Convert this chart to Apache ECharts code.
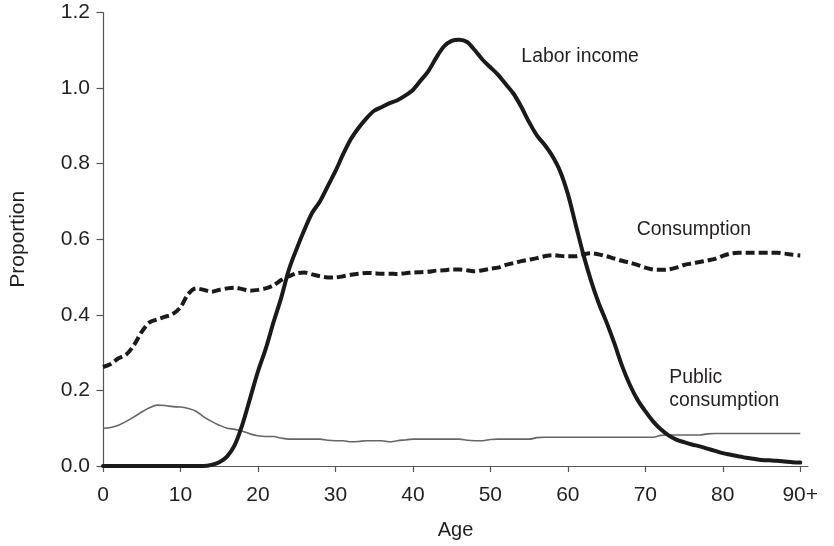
<!DOCTYPE html>
<html>
<head>
<meta charset="utf-8">
<script src="https://cdn.jsdelivr.net/npm/echarts@6/dist/echarts.min.js"></script>
<style>
html,body{margin:0;padding:0;background:#fff;}
#chart{width:834px;height:546px;}
</style>
</head>
<body>
<div id="chart"></div>
<script>
const ages = [0,1,2,3,4,5,6,7,8,9,10,11,12,13,14,15,16,17,18,19,20,21,22,23,24,25,26,27,28,29,30,31,32,33,34,35,36,37,38,39,40,41,42,43,44,45,46,47,48,49,50,51,52,53,54,55,56,57,58,59,60,61,62,63,64,65,66,67,68,69,70,71,72,73,74,75,76,77,78,79,80,81,82,83,84,85,86,87,88,89,90];

const laborIncome = [0,0,0,0,0,0,0,0,0,0,0,0,0,0,0.003,0.01,0.025,0.055,0.11,0.18,0.25,0.31,0.38,0.445,0.52,0.575,0.625,0.67,0.70,0.74,0.78,0.825,0.865,0.895,0.92,0.94,0.95,0.96,0.968,0.98,0.995,1.02,1.045,1.08,1.11,1.125,1.128,1.122,1.10,1.075,1.055,1.035,1.01,0.985,0.95,0.91,0.875,0.85,0.82,0.78,0.72,0.64,0.56,0.49,0.43,0.38,0.325,0.265,0.215,0.175,0.145,0.118,0.097,0.081,0.07,0.063,0.057,0.052,0.046,0.04,0.034,0.03,0.026,0.022,0.019,0.016,0.015,0.014,0.012,0.01,0.009];

const consumption = [0.262,0.27,0.285,0.295,0.32,0.355,0.38,0.388,0.395,0.402,0.42,0.455,0.47,0.466,0.461,0.466,0.47,0.472,0.468,0.464,0.466,0.47,0.478,0.492,0.502,0.51,0.512,0.507,0.502,0.499,0.499,0.502,0.506,0.509,0.511,0.51,0.509,0.509,0.508,0.51,0.512,0.513,0.514,0.517,0.518,0.52,0.52,0.518,0.515,0.518,0.522,0.525,0.532,0.537,0.542,0.546,0.55,0.555,0.558,0.556,0.555,0.555,0.56,0.563,0.56,0.555,0.549,0.543,0.538,0.532,0.525,0.52,0.519,0.52,0.525,0.532,0.536,0.54,0.544,0.548,0.556,0.562,0.564,0.564,0.564,0.564,0.564,0.564,0.562,0.559,0.557];

const publicConsumption = [0.1,0.102,0.108,0.118,0.13,0.143,0.154,0.161,0.16,0.157,0.156,0.152,0.145,0.13,0.118,0.108,0.1,0.097,0.092,0.085,0.08,0.078,0.078,0.074,0.071,0.071,0.071,0.071,0.071,0.068,0.067,0.067,0.064,0.065,0.067,0.067,0.067,0.064,0.067,0.069,0.071,0.071,0.071,0.071,0.071,0.071,0.071,0.068,0.067,0.067,0.07,0.071,0.071,0.071,0.071,0.071,0.075,0.076,0.076,0.076,0.076,0.076,0.076,0.076,0.076,0.076,0.076,0.076,0.076,0.076,0.076,0.076,0.081,0.082,0.082,0.082,0.082,0.082,0.085,0.086,0.086,0.086,0.086,0.086,0.086,0.086,0.086,0.086,0.086,0.086,0.086];

const xTicks = [0,10,20,30,40,50,60,70,80,90];
const xTickLabels = ['0','10','20','30','40','50','60','70','80','90+'];

const annotations = [
  {lines:['Labor income'], age:54.0, value:1.083},
  {lines:['Consumption'], age:68.9, value:0.6245},
  {lines:['Public','consumption'], age:73.1, value:0.2347}
];

const FONT = '"Liberation Sans", Arial, Helvetica, sans-serif';
const TXT = '#231f20';
const AX = '#555';

function pairs(vals){ return ages.map((a,i)=>[a, vals[i]]); }

const chart = echarts.init(document.getElementById('chart'), null, {renderer:'canvas'});
const option = {
  animation:false,
  backgroundColor:'#fff',
  grid:{left:99, right:26, top:12.5, bottom:80, containLabel:false},
  xAxis:{
    type:'value', min:0, max:91,
    name:'Age', nameLocation:'middle', nameGap:54,
    nameTextStyle:{fontFamily:FONT, fontSize:20, color:TXT},
    axisLine:{show:true, lineStyle:{color:AX, width:1.2}},
    axisTick:{show:true, length:6, lineStyle:{color:AX, width:1.2}, customValues:xTicks},
    axisLabel:{fontFamily:FONT, fontSize:21, color:TXT, margin:19, customValues:xTicks,
      formatter:function(v){ const i = xTicks.indexOf(v); return i>=0 ? xTickLabels[i] : ''; }},
    splitLine:{show:false}
  },
  yAxis:{
    type:'value', min:0, max:1.2, interval:0.2,
    name:'Proportion', nameLocation:'middle', nameGap:74,
    nameTextStyle:{fontFamily:FONT, fontSize:21, color:TXT},
    axisLine:{show:true, lineStyle:{color:AX, width:1.2}},
    axisTick:{show:true, length:6.5, lineStyle:{color:AX, width:1.2}},
    axisLabel:{fontFamily:FONT, fontSize:21, color:TXT, margin:13,
      formatter:function(v){ return v.toFixed(1); }},
    splitLine:{show:false}
  },
  series:[
    {name:'Public consumption', type:'line', data:pairs(publicConsumption), showSymbol:false, smooth:0.3,
      lineStyle:{color:'#666', width:1.6}, z:2},
    {name:'Consumption', type:'line', data:pairs(consumption), showSymbol:false, smooth:0.3,
      lineStyle:{color:'#1a1a1a', width:4, type:[9,4]}, z:3},
    {name:'Labor income', type:'line', data:pairs(laborIncome), showSymbol:false, smooth:0.3,
      lineStyle:{color:'#1a1a1a', width:4, cap:'round', join:'round'}, z:4}
  ]
};
chart.setOption(option);

const graphics = [];
annotations.forEach(function(a){
  const p = chart.convertToPixel({gridIndex:0}, [a.age, a.value]);
  a.lines.forEach(function(line, k){
    graphics.push({type:'text', x:p[0], y:p[1] + k*23.7,
      style:{text:line, fill:TXT, font:'19.4px ' + FONT, textAlign:'left', textVerticalAlign:'middle'}});
  });
});
chart.setOption({graphic:graphics});
</script>
</body>
</html>
